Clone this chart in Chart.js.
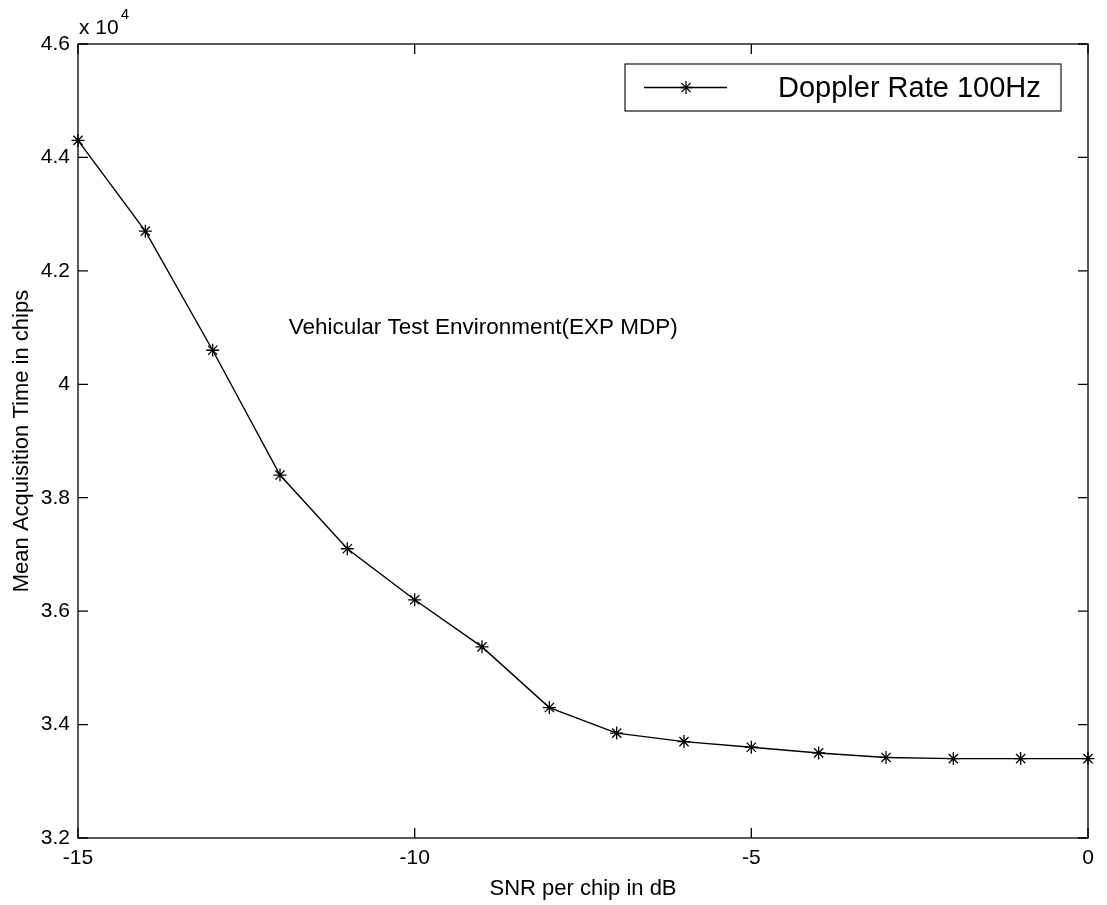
<!DOCTYPE html>
<html>
<head>
<meta charset="utf-8">
<script src="https://cdn.jsdelivr.net/npm/chart.js@4.4.0/dist/chart.umd.min.js"></script>
<style>
  body { margin: 0; background: #fff; }
  #caja { width: 1107px; height: 905px; }
</style>
</head>
<body>
<div id="caja"><canvas id="grafico"></canvas></div>
<script>
// datos (SNR en dB, tiempo medio en chips)
var snr_db = [-15, -14, -13, -12, -11, -10, -9, -8, -7, -6, -5, -4, -3, -2, -1, 0];
var tiempo_medio = [44300, 42700, 40600, 38400, 37100, 36200, 35370, 34300, 33850, 33700, 33600, 33500, 33420, 33400, 33400, 33400];
var etiqueta_serie = 'Doppler Rate 100Hz';
var texto_nota = 'Vehicular Test Environment(EXP MDP)';
var ticks_y = [32000, 34000, 36000, 38000, 40000, 42000, 44000, 46000];
var ticks_x = [-15, -10, -5, 0];

var fuente = '"Liberation Sans", Arial, Helvetica, sans-serif';

// dibuja un asterisco como el marcador '*' de matlab
function asterisco(ctx, x, y, r) {
	ctx.beginPath();
	ctx.moveTo(x - r, y); ctx.lineTo(x + r, y);
	ctx.moveTo(x, y - r); ctx.lineTo(x, y + r);
	var d = r * 0.7071;
	ctx.moveTo(x - d, y - d); ctx.lineTo(x + d, y + d);
	ctx.moveTo(x - d, y + d); ctx.lineTo(x + d, y - d);
	ctx.stroke();
}

// marco, marcas hacia dentro, exponente, nota y leyenda
var marco_matlab = {
	id: 'marco_matlab',
	afterDatasetsDraw: function(chart) {
		var ctx = chart.ctx;
		var a = chart.chartArea;
		var x = chart.scales.x, y = chart.scales.y;
		ctx.save();
		ctx.strokeStyle = '#000';
		ctx.lineWidth = 1.3;
		ctx.strokeRect(a.left, a.top, a.right - a.left, a.bottom - a.top);

		var largo = 10;
		ctx.beginPath();
		ticks_x.forEach(function(v) {
			var px = x.getPixelForValue(v);
			ctx.moveTo(px, a.bottom); ctx.lineTo(px, a.bottom - largo);
			ctx.moveTo(px, a.top); ctx.lineTo(px, a.top + largo);
		});
		ticks_y.forEach(function(v) {
			var py = y.getPixelForValue(v);
			ctx.moveTo(a.left, py); ctx.lineTo(a.left + largo, py);
			ctx.moveTo(a.right, py); ctx.lineTo(a.right - largo, py);
		});
		ctx.stroke();

		// x 10^4
		ctx.fillStyle = '#000';
		ctx.textBaseline = 'alphabetic';
		ctx.textAlign = 'left';
		ctx.font = '21px ' + fuente;
		ctx.fillText('x 10', a.left + 1, a.top - 10);
		var w = ctx.measureText('x 10').width;
		ctx.font = '15px ' + fuente;
		ctx.fillText('4', a.left + 3 + w, a.top - 25);

		// nota dentro del grafico
		ctx.font = '22.5px ' + fuente;
		ctx.textBaseline = 'middle';
		ctx.fillText(texto_nota, x.getPixelForValue(-11.87), y.getPixelForValue(41000));

		// leyenda
		var lx = 625, ly = 64, lw = 436, lh = 47;
		ctx.fillStyle = '#fff';
		ctx.fillRect(lx, ly, lw, lh);
		ctx.lineWidth = 1.1;
		ctx.strokeRect(lx, ly, lw, lh);
		var cy = ly + lh / 2;
		ctx.lineWidth = 1.3;
		ctx.beginPath();
		ctx.moveTo(644, cy); ctx.lineTo(727, cy);
		ctx.stroke();
		asterisco(ctx, 686, cy, 6.5);
		ctx.fillStyle = '#000';
		ctx.font = '29px ' + fuente;
		ctx.fillText(etiqueta_serie, 778, cy + 1);
		ctx.restore();
	}
};

var configuracion = {
	type: 'line',
	data: {
		datasets: [{
			label: etiqueta_serie,
			data: snr_db.map(function(v, i) { return { x: v, y: tiempo_medio[i] }; }),
			borderColor: '#000',
			backgroundColor: '#000',
			borderWidth: 1.4,
			tension: 0,
			fill: false,
			clip: false,
			pointStyle: 'star',
			pointRadius: 6.5,
			pointBorderWidth: 1.3,
			pointBorderColor: '#000'
		}]
	},
	options: {
		responsive: true,
		maintainAspectRatio: false,
		animation: false,
		layout: { padding: { top: 44, right: 19, left: 0, bottom: 0 } },
		plugins: {
			legend: { display: false },
			tooltip: { enabled: false }
		},
		scales: {
			x: {
				type: 'linear',
				min: -15,
				max: 0,
				afterFit: function(s) { s.height = 67; },
				afterBuildTicks: function(s) { s.ticks = ticks_x.map(function(v) { return { value: v }; }); },
				grid: { display: false, drawTicks: false },
				border: { display: false },
				ticks: { color: '#000', padding: 8, font: { family: fuente, size: 21 }, maxRotation: 0 },
				title: { display: true, text: 'SNR per chip in dB', color: '#000', font: { family: fuente, size: 22 }, padding: { top: 0, bottom: 3 } }
			},
			y: {
				type: 'linear',
				min: 32000,
				max: 46000,
				afterFit: function(s) { s.width = 78; },
				afterBuildTicks: function(s) { s.ticks = ticks_y.map(function(v) { return { value: v }; }); },
				grid: { display: false, drawTicks: false },
				border: { display: false },
				ticks: {
					color: '#000',
					padding: 8,
					font: { family: fuente, size: 21 },
					callback: function(v) { return String(+(v / 10000).toFixed(1)); }
				},
				title: { display: true, text: 'Mean Acquisition Time in chips', color: '#000', font: { family: fuente, size: 22 }, padding: { top: 9, bottom: 0 } }
			}
		}
	},
	plugins: [marco_matlab]
};

window.mi_grafico = new Chart(document.getElementById('grafico').getContext('2d'), configuracion);
</script>
</body>
</html>
